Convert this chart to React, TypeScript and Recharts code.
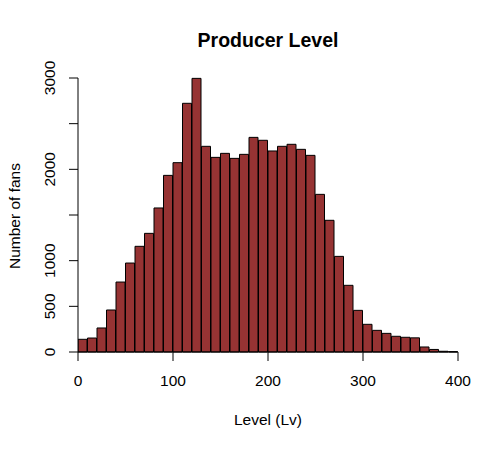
import { BarChart, Bar, XAxis, YAxis } from "recharts";

// histogram bins (start of each 10-level bin) and counts
const binStarts = [
  0, 10, 20, 30, 40, 50, 60, 70, 80, 90,
  100, 110, 120, 130, 140, 150, 160, 170, 180, 190,
  200, 210, 220, 230, 240, 250, 260, 270, 280, 290,
  300, 310, 320, 330, 340, 350, 360, 370, 380, 390,
];
const counts = [
  139, 153, 263, 460, 766, 974, 1157, 1299, 1577, 1934,
  2073, 2723, 2996, 2252, 2131, 2175, 2120, 2164, 2350, 2318,
  2201, 2252, 2274, 2219, 2153, 1726, 1442, 1047, 730, 456,
  303, 237, 204, 172, 161, 155, 55, 28, 8, 4,
];
const BIN_WIDTH = 10;
const xTicks = [0, 100, 200, 300, 400];
const yTicks = [0, 500, 1000, 1500, 2000, 2500, 3000];
const yLabelled = [0, 500, 1000, 2000, 3000];

const data = binStarts.map((s, i) => ({ mid: s + BIN_WIDTH / 2, n: counts[i] }));

const FONT = "'Liberation Sans', Arial, sans-serif";

const YTick = (props: any) => {
  const { x, y, payload } = props;
  if (!yLabelled.includes(payload.value)) return null;
  return (
    <text transform={`translate(${x - 12},${y}) rotate(-90)`} textAnchor="middle"
      fontSize={15.5} fontFamily={FONT} fill="#000">
      {payload.value}
    </text>
  );
};

export default function App() {
  return (
    <div style={{ position: "absolute", left: 0, top: 0, width: 500, height: 450, background: "#fff" }}>
      <BarChart width={500} height={450} data={data} barCategoryGap={0} barGap={0}
        margin={{ top: 78, right: 42, left: 18, bottom: 38 }}>
        <XAxis dataKey="mid" type="number" domain={[0, 400]} ticks={xTicks} allowDataOverflow
          height={60} tickSize={9} tickMargin={14} stroke="#000"
          tick={{ fill: "#000", fontSize: 15.5, fontFamily: FONT }} />
        <YAxis domain={[0, 3000]} ticks={yTicks} width={60} tickSize={9} stroke="#000"
          tick={<YTick />} />
        <Bar dataKey="n" fill="#963333" stroke="#000" strokeWidth={1} isAnimationActive={false} />
      </BarChart>
      <svg width={500} height={450} style={{ position: "absolute", left: 0, top: 0, pointerEvents: "none" }}>
        <text x={268} y={47} textAnchor="middle" fontSize={19.5} fontWeight="bold" fontFamily={FONT} fill="#000">
          Producer Level
        </text>
        <text x={268} y={425} textAnchor="middle" fontSize={15.5} fontFamily={FONT} fill="#000">
          Level (Lv)
        </text>
        <text transform="translate(20,216) rotate(-90)" textAnchor="middle" fontSize={15.5} fontFamily={FONT} fill="#000">
          Number of fans
        </text>
      </svg>
    </div>
  );
}
